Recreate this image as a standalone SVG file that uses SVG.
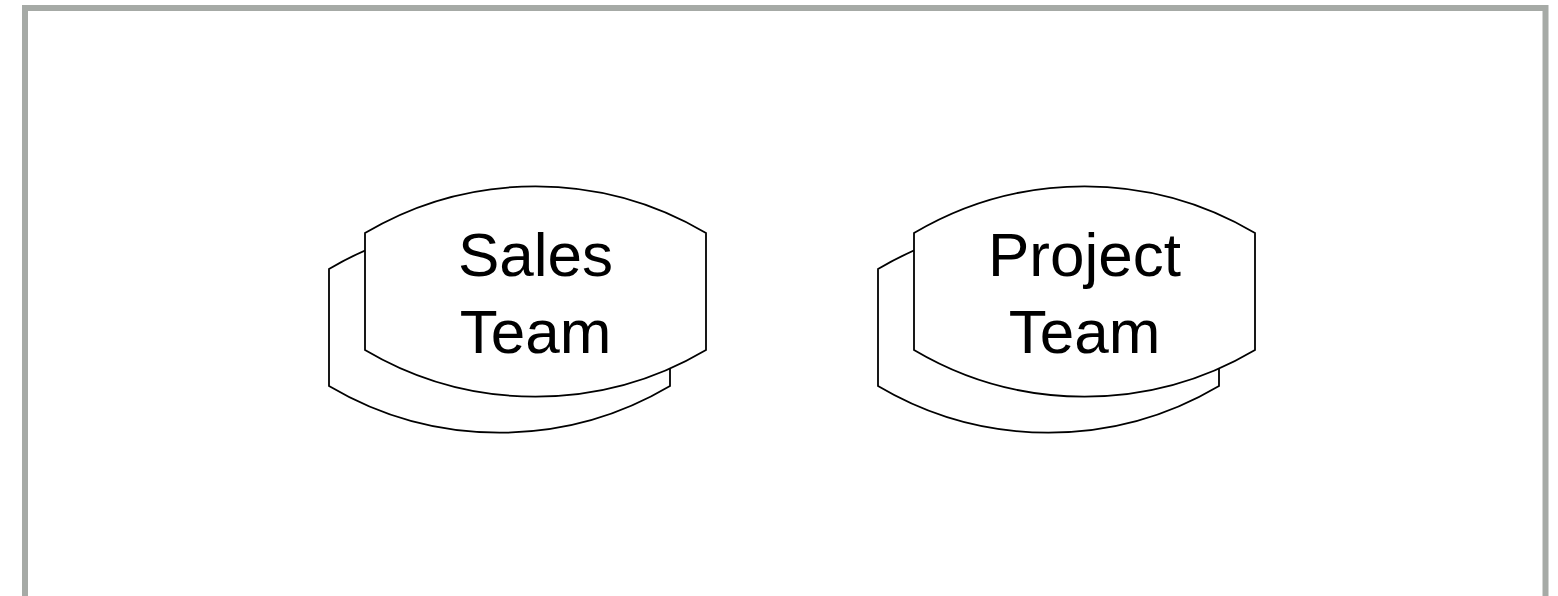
<svg xmlns="http://www.w3.org/2000/svg" width="1558" height="596" viewBox="0 0 1558 596">
<defs>
<style>
.frame{fill:none;stroke:#a6aaa6;stroke-width:6}
.shape{fill:#ffffff;stroke:#000000;stroke-width:1.8;stroke-linejoin:miter}
.label{font-family:"Liberation Sans",Arial,sans-serif;font-size:62px;fill:#000000;text-anchor:middle}
</style>
<path id="team" d="M0,47 A335,335 0 0 1 341,47 L341,164 A335,335 0 0 1 0,164 Z"/>
</defs>
<rect class="frame" x="25" y="8" width="1520.5" height="620"/>
<g id="connectors"></g>
<g id="sales-team">
<use href="#team" class="shape" x="329" y="222"/>
<use href="#team" class="shape" x="365" y="186"/>
<text class="label" x="535.5" y="276">Sales</text>
<text class="label" x="535.5" y="353">Team</text>
</g>
<g id="project-team">
<use href="#team" class="shape" x="878" y="222"/>
<use href="#team" class="shape" x="914" y="186"/>
<text class="label" x="1084.5" y="276">Project</text>
<text class="label" x="1084.5" y="353">Team</text>
</g>
</svg>
